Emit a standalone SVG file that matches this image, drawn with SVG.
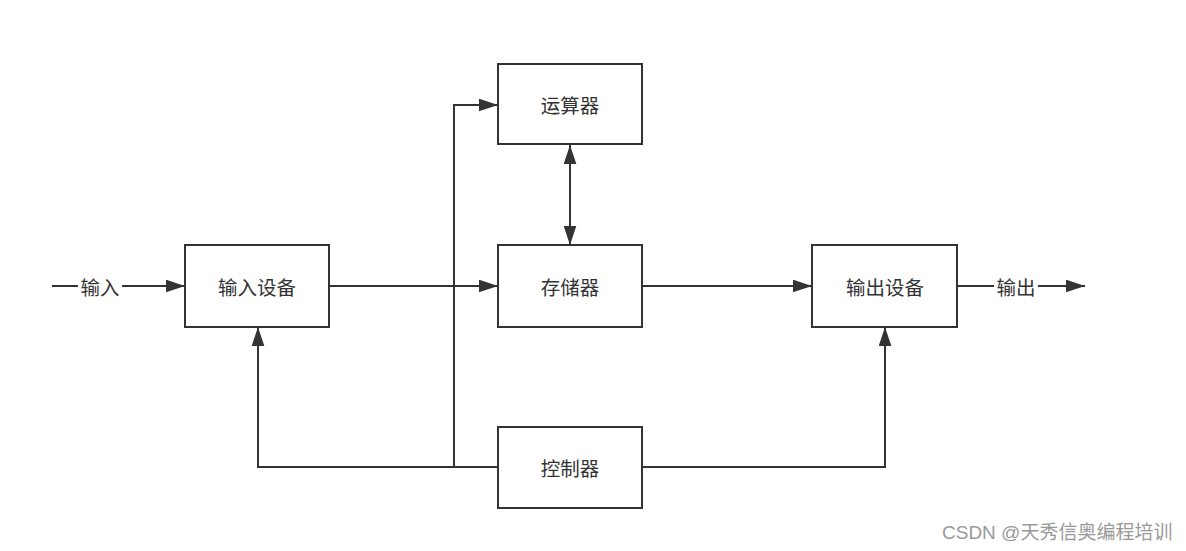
<svg xmlns="http://www.w3.org/2000/svg" width="1186" height="551" viewBox="0 0 1186 551">
<style>
.box{fill:#fff;stroke:#333;stroke-width:2}
.lbl{font-family:"Noto Sans CJK SC","Liberation Sans",sans-serif;font-size:19.5px;fill:#333;text-anchor:middle;dominant-baseline:central}
.ln{fill:none;stroke:#333;stroke-width:2}
.wm{font-family:"Liberation Sans","Noto Sans CJK SC",sans-serif;font-size:19px;fill:#999}
</style>
<defs>
<marker id="ah" viewBox="0 0 18 12" refX="18" refY="6" markerWidth="19" markerHeight="13" markerUnits="userSpaceOnUse" orient="auto-start-reverse">
<path d="M0,0 L18,6 L0,12 Z" fill="#333"/>
</marker>
</defs>
<rect width="1186" height="551" fill="#fff"/>
<g id="connectors">
<path class="ln" d="M52,286 H185" marker-end="url(#ah)"/>
<rect x="78" y="274" width="44" height="24" fill="#fff"/>
<text class="lbl" x="100" y="286">输入</text>
<path class="ln" d="M329,286 H498" marker-end="url(#ah)"/>
<path class="ln" d="M642,286 H812" marker-end="url(#ah)"/>
<path class="ln" d="M957,286 H1085" marker-end="url(#ah)"/>
<rect x="994" y="274" width="44" height="24" fill="#fff"/>
<text class="lbl" x="1016" y="286">输出</text>
<path class="ln" d="M570,145 V245" marker-start="url(#ah)" marker-end="url(#ah)"/>
<path class="ln" d="M498,467 H258 V327" marker-end="url(#ah)"/>
<path class="ln" d="M454,467 V105 H498" marker-end="url(#ah)"/>
<path class="ln" d="M642,467 H885 V327" marker-end="url(#ah)"/>
</g>
<g id="input-device">
<rect class="box" x="185" y="245" width="144" height="82"/>
<text class="lbl" x="257" y="286">输入设备</text>
</g>
<g id="alu">
<rect class="box" x="498" y="64" width="144" height="80"/>
<text class="lbl" x="570" y="104">运算器</text>
</g>
<g id="memory">
<rect class="box" x="498" y="245" width="144" height="82"/>
<text class="lbl" x="570" y="286">存储器</text>
</g>
<g id="controller">
<rect class="box" x="498" y="427" width="144" height="81"/>
<text class="lbl" x="570" y="467">控制器</text>
</g>
<g id="output-device">
<rect class="box" x="812" y="245" width="145" height="82"/>
<text class="lbl" x="885" y="286">输出设备</text>
</g>
<text class="wm" x="942" y="539">CSDN @天秀信奥编程培训</text>
</svg>
